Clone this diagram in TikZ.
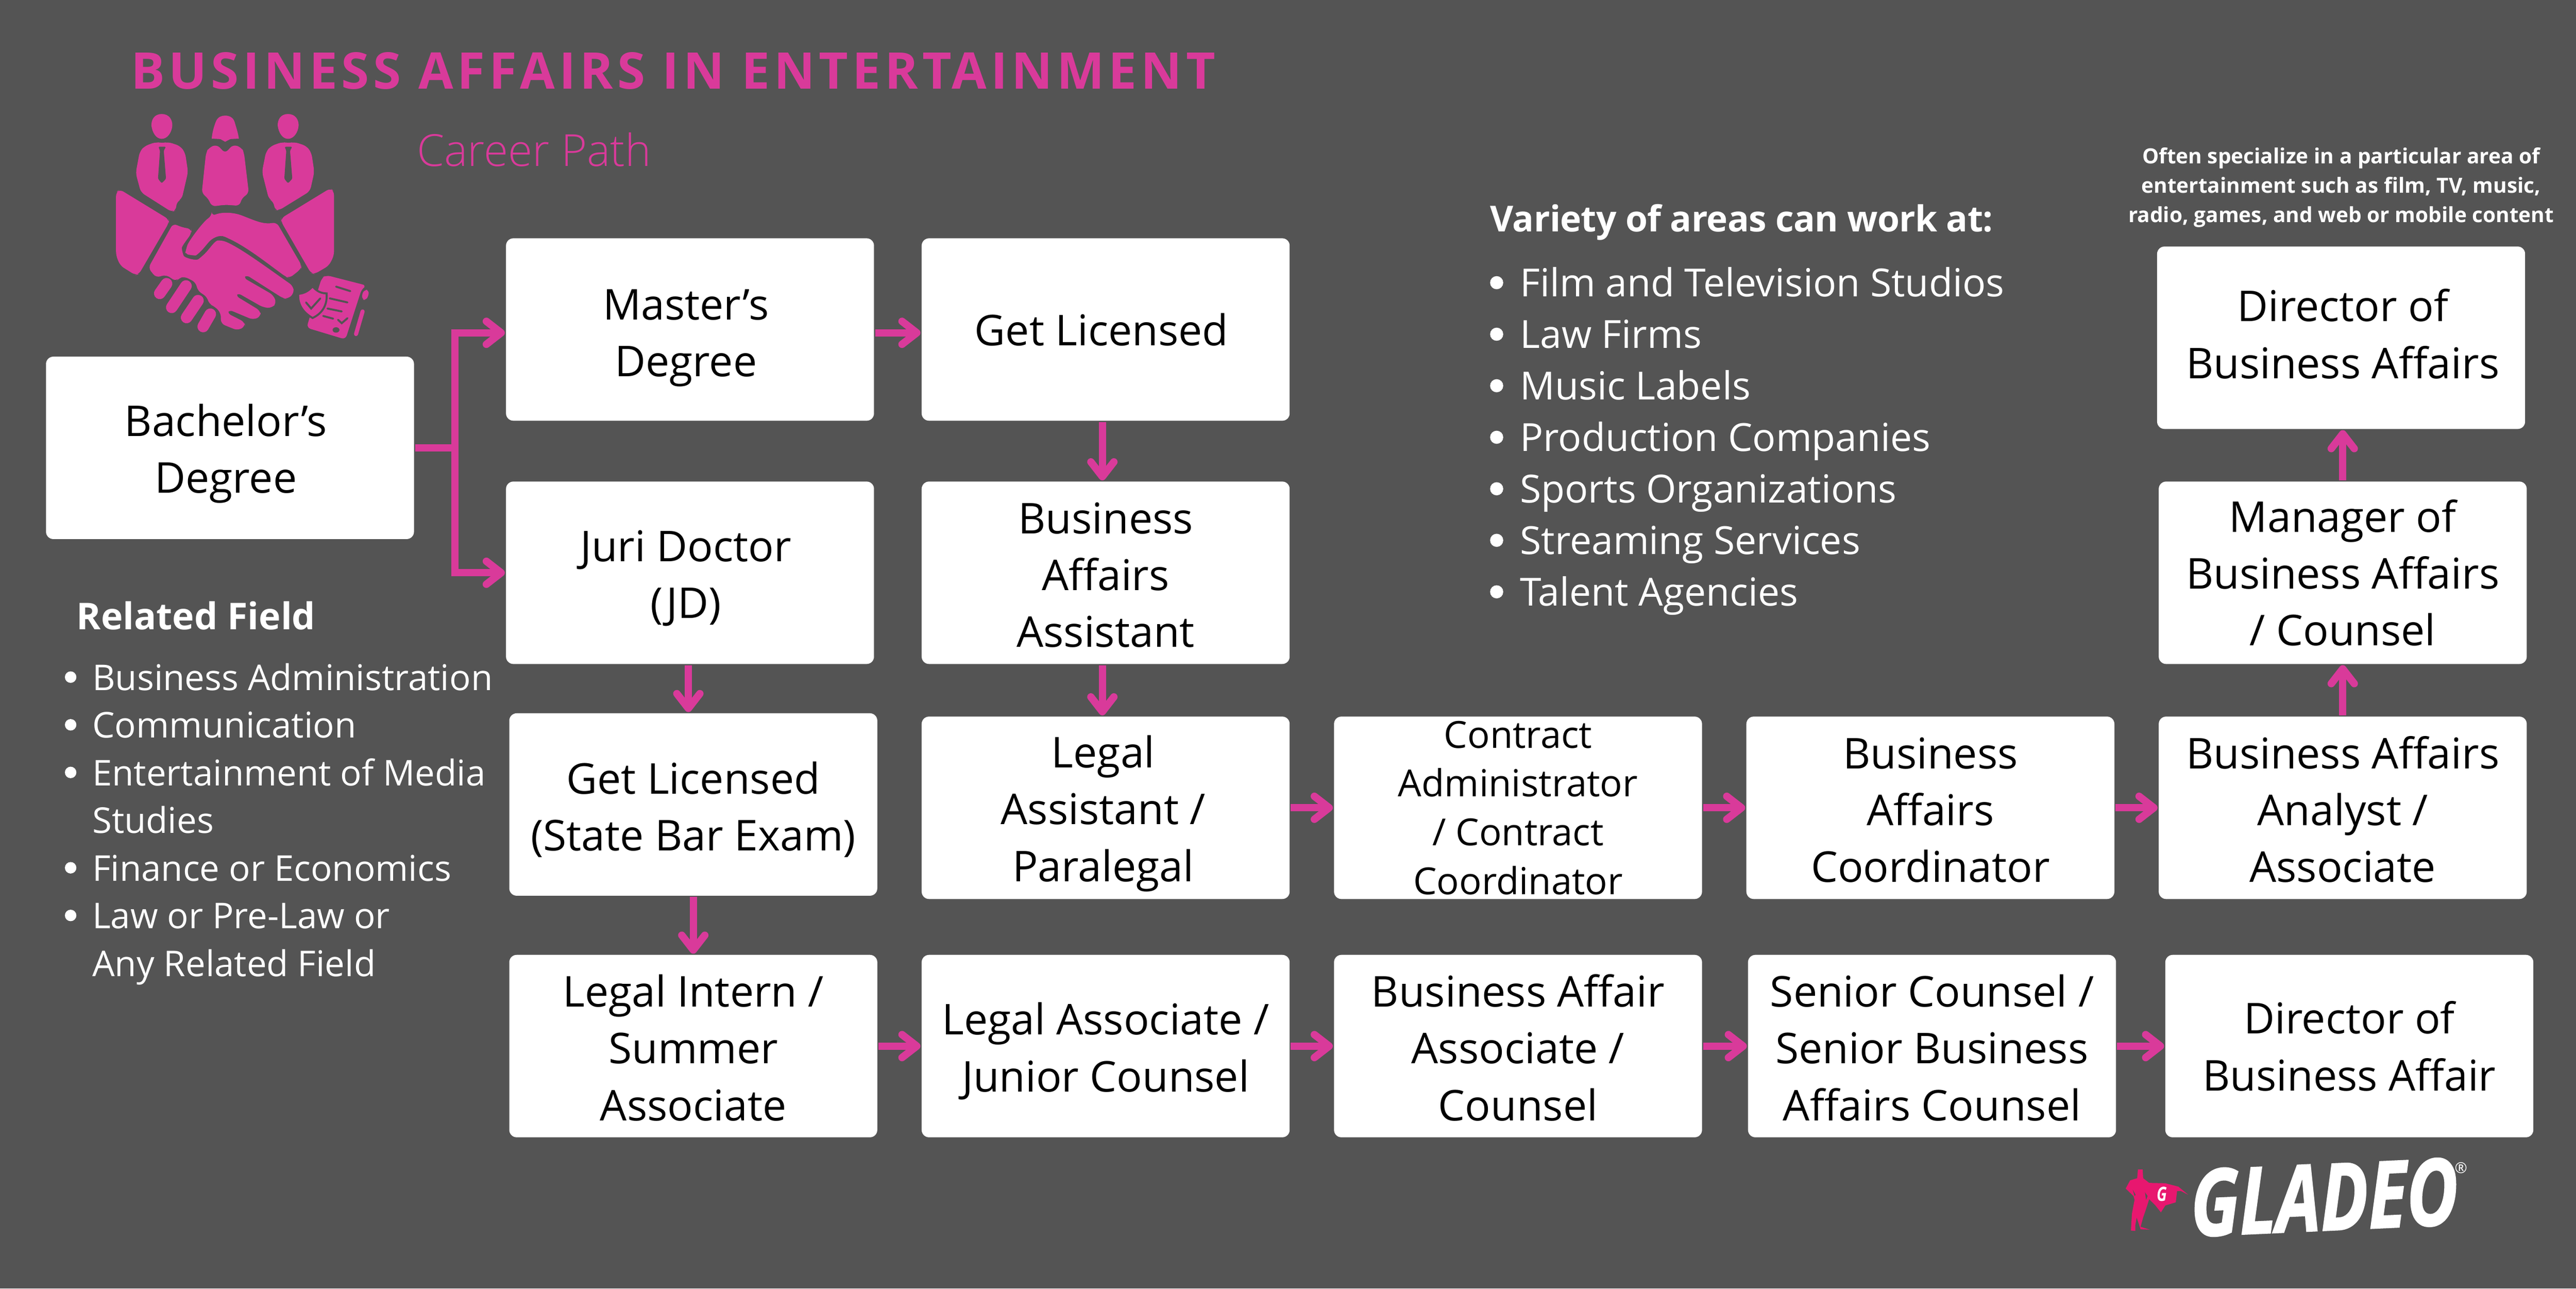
\documentclass[tikz,border=0pt]{standalone}
\usepackage{fontspec}
\setmainfont{Open Sans}
\newfontfamily\lightfont{Open Sans Light}
\newfontfamily\logofont{Open Sans}[BoldItalicFeatures={FakeBold=1.6}]
\usetikzlibrary{arrows.meta}

\definecolor{slatebg}{HTML}{545454}
\definecolor{pinkline}{HTML}{D93A9A}
\definecolor{capepink}{HTML}{E8176F}

\newcommand{\nudgetext}[2]{\rule{0pt}{\dimexpr5.6pt+#2\relax}\advance\leftskip by #1\relax}

\tikzset{
  careerbox/.style={fill=white, rounded corners=0.045cm, minimum width=2.24cm, minimum height=1.11cm,
    inner sep=0pt, align=flush center, text width=2.2cm, text=black, font=\fontsize{7.35}{9.85}\selectfont},
  flowline/.style={draw=pinkline, line width=0.045cm,
    -{Straight Barb[length=0.09cm, width=0.14cm, line width=0.045cm, round]}},
  branchline/.style={draw=pinkline, line width=0.045cm},
  listtext/.style={anchor=base west, inner sep=0pt, text=white},
  iconpart/.style={fill=pinkline, rounded corners=0.025cm},
  icongap/.style={fill=slatebg, rounded corners=0.008cm},
  finger/.style={draw=pinkline, line width=0.07cm, line cap=round},
  docline/.style={draw=slatebg, line width=0.012cm, line cap=round}
}

\begin{document}
\begin{tikzpicture}
  \useasboundingbox (0,0) rectangle (15.68,7.84);
  \fill [slatebg] (0,0) rectangle (15.68,7.84);

  \node (title) at (0.79,7.41) [anchor=west, inner sep=0pt, text=pinkline, font=\fontsize{8.75}{10}\selectfont\bfseries] {\addfontfeature{LetterSpace=8.1}BUSINESS AFFAIRS IN ENTERTAINMENT};
  \node (subtitle) at (2.53,6.93) [anchor=west, inner sep=0pt, text=pinkline, font=\fontsize{7.65}{9}\lightfont] {Career Path};

  \begin{scope}[shift={(0.454,7.727)}, x=0.001736cm, y=-0.001375cm]
    \fill [pinkline] (305,423) .. controls (278,423) and (268,450) .. (269,475) .. controls (272,505) and (285,533) .. (305,533) .. controls (325,533) and (340,505) .. (342,475) .. controls (343,450) and (332,423) .. (305,423) -- cycle;
    \fill [pinkline] (747,423) .. controls (720,423) and (710,450) .. (711,475) .. controls (714,505) and (727,533) .. (747,533) .. controls (767,533) and (782,505) .. (784,475) .. controls (785,450) and (774,423) .. (747,423) -- cycle;
    \fill [iconpart] (285,547) -- (305,552) -- (328,547) -- (370,565) -- (387,595) -- (397,680) -- (375,800) -- (357,812) -- (355,850) -- (340,857) -- (232,770) -- (214,685) -- (228,590) -- (245,565) -- cycle;
    \fill [iconpart] (727,547) -- (747,552) -- (770,547) -- (812,565) -- (829,595) -- (839,680) -- (824,765) -- (715,850) -- (700,848) -- (697,812) -- (680,800) -- (656,680) -- (670,590) -- (687,565) -- cycle;
    \fill [icongap] (293,568) -- (320,568) -- (312,585) -- (320,710) -- (305,730) -- (292,710) -- (299,585) -- cycle;
    \fill [icongap] (735,568) -- (762,568) -- (754,585) -- (762,710) -- (747,730) -- (734,710) -- (741,585) -- cycle;
    \fill [pinkline] (480,532) .. controls (482,500) and (490,470) .. (495,455) .. controls (502,435) and (515,430) .. (527,430) .. controls (540,430) and (555,437) .. (560,458) .. controls (565,480) and (572,505) .. (575,532) -- (545,534) -- (527,546) -- (510,534) -- cycle;
    \fill [iconpart] (498,558) -- (527,597) -- (555,558) -- (585,572) -- (593,595) -- (610,775) -- (585,795) -- (578,830) -- (527,825) -- (480,833) -- (467,795) -- (445,775) -- (460,595) -- (470,572) -- cycle;
    \fill [iconpart] (145,770) -- (158,757) -- (330,890) -- (330,905) -- (225,1133) -- (213,1137) -- (160,1095) -- (145,1050) -- cycle;
    \fill [iconpart] (908,765) -- (895,752) -- (723,885) -- (723,900) -- (828,1130) -- (840,1132) -- (890,1095) -- (908,1050) -- cycle;
    \fill [iconpart] (480,875) .. controls (520,855) and (560,860) .. (600,880) .. controls (640,900) and (665,912) .. (707,903) -- (795,1095) -- (792,1110) -- (752,1150) -- (740,1145) .. controls (670,1080) and (610,1020) .. (540,975) .. controls (505,955) and (480,975) .. (460,1005) .. controls (440,1035) and (425,1050) .. (410,1050) .. controls (395,1045) and (388,1035) .. (390,1022) .. controls (400,985) and (450,900) .. (480,875) -- cycle;
    \fill [iconpart] (345,908) -- (375,925) -- (408,932) -- (410,950) .. controls (390,985) and (375,1010) .. (376,1035) .. controls (385,1060) and (425,1075) .. (445,1055) .. controls (470,1025) and (490,985) .. (515,982) .. controls (580,1015) and (680,1110) .. (765,1185) -- (768,1218) -- (745,1243) -- (730,1240) -- (600,1135) -- (590,1148) -- (695,1225) -- (707,1260) -- (690,1283) -- (660,1280) -- (570,1215) -- (563,1228) -- (650,1295) -- (652,1320) -- (625,1335) -- (540,1290) -- (533,1305) -- (595,1345) -- (597,1365) -- (570,1382) -- (512,1352) -- (512,1305) -- (490,1275) -- (470,1265) -- (465,1235) -- (430,1205) -- (425,1170) -- (385,1143) -- (365,1150) -- (355,1165) -- (320,1135) -- (285,1148) -- (258,1105) -- cycle;
    \draw [finger] (322,1175) -- (298,1218);
    \draw [finger] (390,1185) -- (340,1280);
    \draw [finger] (432,1250) -- (392,1325);
    \draw [finger] (475,1310) -- (450,1365);
    \fill [iconpart] (880,1137) -- (1022,1183) -- (1005,1198) -- (948,1422) -- (812,1370) -- (855,1190) -- (865,1150) -- cycle;
    \filldraw [fill=pinkline, draw=slatebg, line width=0.012cm] (833,1187) .. controls (820,1205) and (805,1218) .. (783,1220) .. controls (780,1260) and (795,1300) .. (833,1327) .. controls (870,1305) and (885,1265) .. (882,1218) .. controls (860,1218) and (845,1205) .. (833,1187) -- cycle;
    \draw [docline] (810,1258) -- (828,1285) -- (860,1240);
    \draw [docline] (915,1188) -- (965,1208);
    \draw [docline] (893,1240) -- (955,1258);
    \draw [docline] (885,1285) -- (935,1298);
    \draw [docline] (870,1318) -- (905,1330);
    \draw [docline] (922,1335) -- (935,1350) -- (955,1328);
    \fill [slatebg] (915,1380) circle [radius=12];
    \fill [iconpart] (1012,1200) -- (1033,1205) -- (1022,1250) -- (1003,1243) -- cycle;
    \draw [pinkline, line width=0.025cm, line cap=round] (1008,1298) -- (985,1398);
  \end{scope}

  \node (bachelor) at (1.40,5.115) [careerbox] {\nudgetext{-0.05cm}{0.07cm}Bachelor’s\\Degree\par};
  \node (master) at (4.20,5.835) [careerbox] {\nudgetext{-0.05cm}{0.09cm}Master’s\\Degree\par};
  \node (licensed) at (6.73,5.835) [careerbox] {\nudgetext{-0.05cm}{0cm}Get Licensed\par};
  \node (juri) at (4.20,4.355) [careerbox] {\nudgetext{-0.05cm}{0.06cm}Juri Doctor\\(JD)\par};
  \node (assistant) at (6.73,4.355) [careerbox] {\nudgetext{0cm}{0.02cm}Business\\Affairs\\Assistant};
  \node (statebar) at (4.22,2.945) [careerbox] {\nudgetext{0cm}{0.06cm}Get Licensed\\(State Bar Exam)};
  \node (paralegal) at (6.73,2.925) [careerbox] {\nudgetext{-0.03cm}{0.07cm}Legal\\Assistant /\\Paralegal\par};
  \node (contract) at (9.24,2.925) [careerbox, inner ysep=-0.1cm, font=\fontsize{6.45}{8.45}\selectfont] {Contract\\Administrator\\/ Contract\\Coordinator};
  \node (coordinator) at (11.75,2.925) [careerbox] {\nudgetext{0cm}{0.02cm}Business\\Affairs\\Coordinator};
  \node (analyst) at (14.26,2.925) [careerbox] {\nudgetext{0cm}{0.02cm}Business Affairs\\Analyst /\\Associate};
  \node (manager) at (14.26,4.355) [careerbox] {Manager of\\Business Affairs\\/ Counsel};
  \node (director) at (14.25,5.785) [careerbox] {\nudgetext{0.02cm}{0cm}Director of\\Business Affairs\rule[-1.4pt]{0pt}{1.4pt}\par};
  \node (intern) at (4.22,1.475) [careerbox] {\nudgetext{0cm}{0.02cm}Legal Intern /\\Summer\\Associate};
  \node (associate) at (6.73,1.475) [careerbox] {\nudgetext{0cm}{0.06cm}Legal Associate /\\Junior Counsel};
  \node (counsel) at (9.24,1.475) [careerbox] {\nudgetext{0cm}{0.02cm}Business Affair\\Associate /\\Counsel};
  \node (senior) at (11.76,1.475) [careerbox] {\nudgetext{0cm}{0.02cm}Senior Counsel /\\Senior Business\\Affairs Counsel};
  \node (topdirector) at (14.30,1.475) [careerbox] {Director of\\Business Affair};

  \coordinate (branch) at (2.77,5.115);
  \draw [branchline] (bachelor.east) -- (branch);
  \draw [flowline] (branch) |- ([yshift=-0.02cm]master.west);
  \draw [flowline] (branch) |- (juri.west);
  \draw [flowline] ([yshift=-0.02cm]master.east) -- ([yshift=-0.02cm]licensed.west);
  \draw [flowline] (licensed.south -| 6.71,0) -- (assistant.north -| 6.71,0);
  \draw [flowline] (juri.south -| 4.19,0) -- (statebar.north -| 4.19,0);
  \draw [flowline] (assistant.south -| 6.71,0) -- (paralegal.north -| 6.71,0);
  \draw [flowline] (statebar) -- (intern);
  \draw [flowline] (paralegal) -- (contract);
  \draw [flowline] (contract) -- (coordinator);
  \draw [flowline] (coordinator) -- (analyst);
  \draw [flowline] (analyst) -- (manager);
  \draw [flowline] (manager) -- (manager |- director.south);
  \draw [flowline] (intern) -- (associate);
  \draw [flowline] (associate) -- (counsel);
  \draw [flowline] (counsel) -- (senior);
  \draw [flowline] (senior) -- (topdirector);

  \node (relatedhead) at (0.46,4.01) [listtext, font=\fontsize{6.4}{8}\selectfont\bfseries] {Related Field};
  \foreach \y/\txt [count=\i] in {412/Business Administration, 441/Communication, 470/Entertainment of Media, 499/Studies, 528/Finance or Economics, 557/Law or Pre-Law or, 586/Any Related Field}
    \node (related\i) at (0.555,7.76-\y/100) [listtext, font=\fontsize{6.15}{8}\selectfont] {\txt};
  \foreach \y in {412,441,470,528,557}
    \fill [white] (0.43,7.84-\y/100) circle [radius=0.035];

  \node (areashead) at (9.065,6.43) [listtext, font=\fontsize{6.2}{8}\selectfont\bfseries] {\addfontfeature{LetterSpace=-1}Variety of areas can work at:};
  \foreach \txt [count=\i] in {Film and Television Studios, Law Firms, Music Labels, Production Companies, Sports Organizations, Streaming Services, Talent Agencies} {
    \node (area\i) at (9.245,6.035-0.3135*\i+0.3135) [listtext, font=\fontsize{6.7}{8}\selectfont] {\txt};
    \fill [white] (9.11,6.12-0.3135*\i+0.3135) circle [radius=0.04];
  }

  \node (specialnote) at (14.25,6.70) [align=flush center, inner sep=0pt, text=white, font=\fontsize{3.62}{5.1}\selectfont\bfseries] {Often specialize in a particular area of\\entertainment such as film, TV, music,\\radio, games, and web or mobile content};

  \begin{scope}[shift={(12.704,0.921)}, x=0.001592cm, y=-0.000756cm]
    \fill [capepink] (195,258) -- (213,258) -- (215,328) -- (238,365) -- (300,368) -- (350,395) -- (388,460) -- (360,430) -- (345,430) -- (340,520) -- (300,545) -- (283,600) -- (262,545) -- (238,495) -- (225,580) -- (215,640) -- (205,715) -- (240,738) -- (205,735) -- (190,640) -- (185,700) -- (185,748) -- (168,745) -- (172,610) -- (182,500) -- (178,470) -- (148,410) -- (165,345) -- (192,328) -- cycle;
    \fill [slatebg] (175,420) -- (186,460) -- (182,470) -- cycle;
    \fill [slatebg] (222,440) -- (232,470) -- (226,500) -- cycle;
    \node (capeletter) at (287,455) [inner sep=0pt, text=white, xscale=0.75, transform shape, font=\fontsize{3.4}{4}\selectfont\bfseries\itshape] {G};
    \node (gladeo) at (910,480) [inner sep=0pt, text=white, xscale=0.765, rotate=2, transform shape, font=\fontsize{16}{16}\logofont\bfseries\itshape] {GLADEO};
    \node (regmark) at (1434,245) [inner sep=0pt, text=white, font=\fontsize{2.6}{3}\selectfont] {®};
  \end{scope}
\end{tikzpicture}
\end{document}
